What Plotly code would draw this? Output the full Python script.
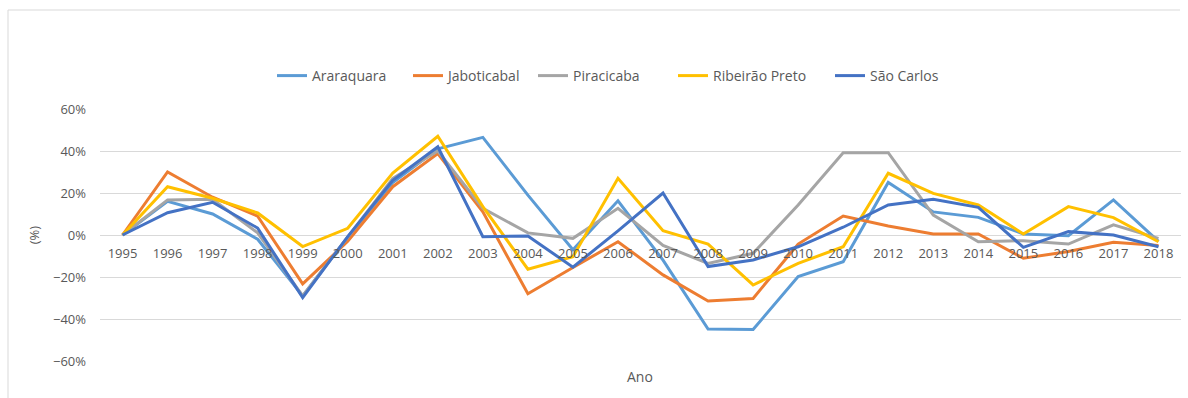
import plotly.graph_objects as go

# Annual variation (%) by municipality
years = [str(y) for y in range(1995, 2019)]

araraquara = [0, 16, 10, -2, -29, -1, 25, 41, 46.5, 19, -7, 16.3, -12, -44.8, -45,
              -19.8, -12.7, 25, 11, 8.4, 0.5, -0.3, 16.7, -3]
jaboticabal = [0, 30, 18, 9, -23.3, -3, 23, 38.8, 11, -28, -15.5, -3.2, -19, -31.4,
               -30.2, -4.3, 9, 4.3, 0.5, 0.5, -11.1, -7.9, -3.5, -5]
piracicaba = [0, 16.7, 17, 1, -29, -1, 27, 40, 12.7, 1, -1.6, 12.7, -5, -13.5, -8.7,
              14.3, 39.2, 39.2, 9.5, -3.2, -2.7, -4.3, 4.8, -1.6]
ribeirao_preto = [0, 23, 17.5, 10.5, -5.5, 3.2, 29.5, 47, 13.5, -16.3, -10.3, 27, 2,
                  -4.3, -23.8, -13.5, -5.6, 29.4, 19.8, 14.3, 0.5, 13.5, 8.3, -3.2]
sao_carlos = [0, 10.6, 15.6, 3.3, -29.8, -0.8, 26, 42, -0.8, -0.5, -15.3, 2, 20, -15,
              -11.9, -5.6, 3.7, 14.3, 17, 13.2, -5.9, 1.6, 0, -5.6]

series = [
    ("Araraquara", araraquara, "#5B9BD5"),
    ("Jaboticabal", jaboticabal, "#ED7D31"),
    ("Piracicaba", piracicaba, "#A5A5A5"),
    ("Ribeirão Preto", ribeirao_preto, "#FFC000"),
    ("São Carlos", sao_carlos, "#4472C4"),
]

grey_text = "#595959"
grid = "#D9D9D9"
font_family = "Open Sans, Noto Sans, sans-serif"

W, H = 1188, 398
L, R, T, B = 100, 7, 109, 37
pw, ph = W - L - R, H - T - B

def px_x(x):
    return (x - L) / pw

def px_y(y):
    return (H - B - y) / ph

# left edge (px) of each legend entry along the top row
legend_left = [272, 408, 533, 673, 830]

fig = go.Figure()
legend_layouts = {}
for i, (name, vals, color) in enumerate(series):
    key = "legend" if i == 0 else f"legend{i + 1}"
    fig.add_trace(go.Scatter(
        x=years, y=vals, name=name, mode="lines",
        line=dict(color=color, width=3),
        legend=key,
    ))
    legend_layouts[key] = dict(
        orientation="h", x=px_x(legend_left[i]), xanchor="left",
        y=px_y(76), yanchor="middle",
        font=dict(size=14, color=grey_text),
        bgcolor="rgba(0,0,0,0)", borderwidth=0,
    )

fig.update_layout(
    width=W, height=H,
    margin=dict(l=L, r=R, t=T, b=B),
    paper_bgcolor="white", plot_bgcolor="white",
    font=dict(family=font_family, size=13, color=grey_text),
    showlegend=True,
    xaxis=dict(
        type="category", range=[-0.5, 23.5],
        anchor="free", position=0.5,
        showgrid=False, showline=False, zeroline=False,
        ticks="", ticklabelstandoff=9,
        tickfont=dict(size=13, color=grey_text),
    ),
    yaxis=dict(
        range=[-60, 60], dtick=20, ticksuffix="%",
        showgrid=True, gridcolor=grid, gridwidth=1,
        zeroline=True, zerolinecolor=grid, zerolinewidth=1,
        showline=False, ticks="", ticklabelstandoff=13,
        tickfont=dict(size=13, color=grey_text),
        title=dict(text="(%)", standoff=10, font=dict(size=13, color=grey_text)),
    ),
    annotations=[
        dict(text="Ano", xref="paper", yref="paper", x=px_x(640), y=px_y(376),
             showarrow=False, font=dict(size=14, color=grey_text),
             xanchor="center", yanchor="middle"),
    ],
    shapes=[
        dict(type="line", xref="paper", yref="paper",
             x0=px_x(8), x1=px_x(1180), y0=px_y(10), y1=px_y(10),
             line=dict(color=grid, width=1)),
        dict(type="line", xref="paper", yref="paper",
             x0=px_x(8), x1=px_x(8), y0=px_y(10), y1=px_y(400),
             line=dict(color=grid, width=1)),
    ],
    **legend_layouts,
)

fig.write_html("out.html")
